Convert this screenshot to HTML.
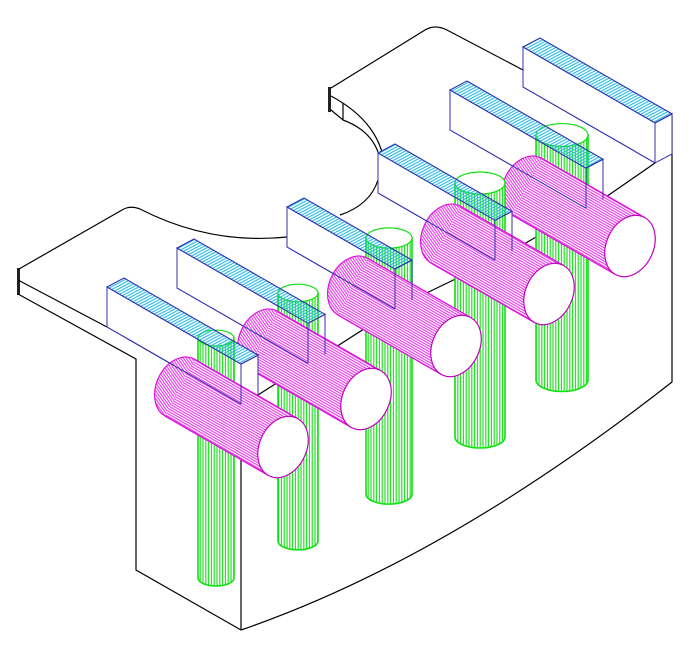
<!DOCTYPE html>
<html><head><meta charset="utf-8"><style>html,body{margin:0;padding:0;background:#fff}svg{display:block}</style></head>
<body>
<svg id="s" width="699" height="652" viewBox="0 0 699 652" xmlns="http://www.w3.org/2000/svg">
<defs>
<pattern id="mh" width="20" height="2.3" patternUnits="userSpaceOnUse" patternTransform="rotate(29.9)">
<rect width="20" height="2.3" fill="#fff"/><line x1="0" y1="1.15" x2="20" y2="1.15" stroke="#e010e0" stroke-width="1"/></pattern>
<pattern id="gh" width="2.8" height="20" patternUnits="userSpaceOnUse">
<rect width="2.8" height="20" fill="#fff"/><line x1="1.4" y1="0" x2="1.4" y2="20" stroke="#10e010" stroke-width="1.1"/></pattern>
<pattern id="bh" width="20" height="2.6" patternUnits="userSpaceOnUse" patternTransform="rotate(-28)">
<line x1="0" y1="1.3" x2="20" y2="1.3" stroke="#20b8e0" stroke-width="1"/></pattern>
</defs>
<g id="blk" fill="none" stroke="#000" stroke-width="1.2">
<rect x="17" y="268" width="3" height="27" fill="#222" stroke="none"/>
<path d="M19,269 L122,210 Q130,205 140,209 Q210,245 287,237"/>
<path d="M18,280 L107,327"/>
<path d="M18,294 L136,359 L136,570 L241,630 Q445,560 672,382 L672,116"/>
<path d="M241,364 L241,630"/>
<rect x="328" y="87" width="3" height="25" fill="#222" stroke="none"/>
<path d="M331,88 L425,30 Q435,24 447,30 L523,70"/>
<path d="M331,96 Q372,118 382,152"/>
<path d="M331,110 L343,120 Q370,130 378,152"/>
<path d="M343,103 L343,120"/>
<path d="M378,180 Q370,205 340,215"/>
<path d="M258,395 L308,363 M325,354 L395,309 M412,300 L495,260 M512,251 L586,208 M603,199 L655,163"/>
</g>
<g id="units"></g>
<g id="tops"></g>
</svg>
<script>
const NS="http://www.w3.org/2000/svg";
const units=document.getElementById('units'), tops=document.getElementById('tops');
function el(p,tag,attrs){const e=document.createElementNS(NS,tag);for(const k in attrs)e.setAttribute(k,attrs[k]);p.appendChild(e);return e;}
const H=40, W=[17,-9], sl=0.575;
const fins=[[107,287,134],[177,248,131],[287,207,108],[378,153,117],[450,90,136],[523,47,132]];
function finPts(f){const BL=[f[0],f[1]],BR=[f[0]+W[0],f[1]+W[1]],FR=[BR[0]+f[2],BR[1]+f[2]*sl],FL=[FR[0]-W[0],FR[1]-W[1]];return {BL,BR,FR,FL};}
const P=a=>a.map(p=>p[0].toFixed(1)+','+p[1].toFixed(1)).join(' ');
const dn=p=>[p[0],p[1]+H];
function drawFinBody(f){const q=finPts(f);
 el(units,'polygon',{points:P([q.BL,q.FL,dn(q.FL),dn(q.BL)]),fill:'#fff',stroke:'#3030b0','stroke-width':1});
 el(units,'polygon',{points:P([q.FL,q.FR,dn(q.FR),dn(q.FL)]),fill:'#fff',stroke:'#3030b0','stroke-width':1});
 el(units,'polygon',{points:P([q.BL,q.BR,q.FR,q.FL]),fill:'#fff',stroke:'none'});}
function drawFinTop(f){const q=finPts(f);
 el(tops,'polygon',{points:P([q.BL,q.BR,q.FR,q.FL]),fill:'url(#bh)',stroke:'#3030b0','stroke-width':1.1});
 el(tops,'polyline',{points:P([dn(q.FL),q.FL,q.FR,dn(q.FR)]),fill:'none',stroke:'#3030b0','stroke-width':1});
 el(tops,'polyline',{points:P([q.BL,dn(q.BL),dn(q.FL)]),fill:'none',stroke:'#3030b0','stroke-width':1});}
const greens=[[216,36,338,578],[298,40,293,541],[389,46,238,494],[480,50,183,437],[562,52,135,380]];
function drawGreen(g){const [cx,w,t,b]=g,r=w/2,ry=w*0.22;
 el(units,'path',{d:`M${cx-r},${t} L${cx-r},${b} A${r},${ry} 0 0 0 ${cx+r},${b} L${cx+r},${t} Z`,fill:'url(#gh)',stroke:'#10e010','stroke-width':1.6});
 el(units,'ellipse',{cx,cy:t,rx:r,ry,fill:'#fff',stroke:'#10e010','stroke-width':1.2});}
const mags=[[283,447],[366,399],[456,346],[549,294],[630,246]];
const a=23.5,b=32,th=25*Math.PI/180,L=119,d=[Math.cos(29.9*Math.PI/180),Math.sin(29.9*Math.PI/180)];
function ept(c,t){const x=a*Math.cos(t),y=b*Math.sin(t);return [c[0]+x*Math.cos(th)-y*Math.sin(th),c[1]+x*Math.sin(th)+y*Math.cos(th)];}
function drawMag(m){const F=m,B=[m[0]-L*d[0],m[1]-L*d[1]];
 const dlx=d[0]*Math.cos(th)+d[1]*Math.sin(th),dly=-d[0]*Math.sin(th)+d[1]*Math.cos(th);
 const t0=Math.atan2(-b*dlx,a*dly),t1=t0+Math.PI;
 const tr=`rotate(25 ${B[0]} ${B[1]})`;
 el(units,'ellipse',{cx:B[0],cy:B[1],rx:a,ry:b,transform:tr,fill:'url(#mh)',stroke:'#e010e0','stroke-width':1.2});
 const b0=ept(B,t0),b1=ept(B,t1),f0=ept(F,t0),f1=ept(F,t1);
 el(units,'polygon',{points:P([b0,f0,f1,b1]),fill:'url(#mh)',stroke:'none'});
 el(units,'line',{x1:b0[0],y1:b0[1],x2:f0[0],y2:f0[1],stroke:'#e010e0','stroke-width':1.4});
 el(units,'line',{x1:b1[0],y1:b1[1],x2:f1[0],y2:f1[1],stroke:'#e010e0','stroke-width':1.4});
 el(units,'ellipse',{cx:F[0],cy:F[1],rx:a,ry:b,transform:`rotate(25 ${F[0]} ${F[1]})`,fill:'#fff',stroke:'#c000c0','stroke-width':1.2});}
drawFinBody(fins[5]);
for(let i=4;i>=0;i--){drawFinBody(fins[i]);drawGreen(greens[i]);drawMag(mags[i]);}
for(let i=5;i>=0;i--)drawFinTop(fins[i]);
</script>
</body></html>
